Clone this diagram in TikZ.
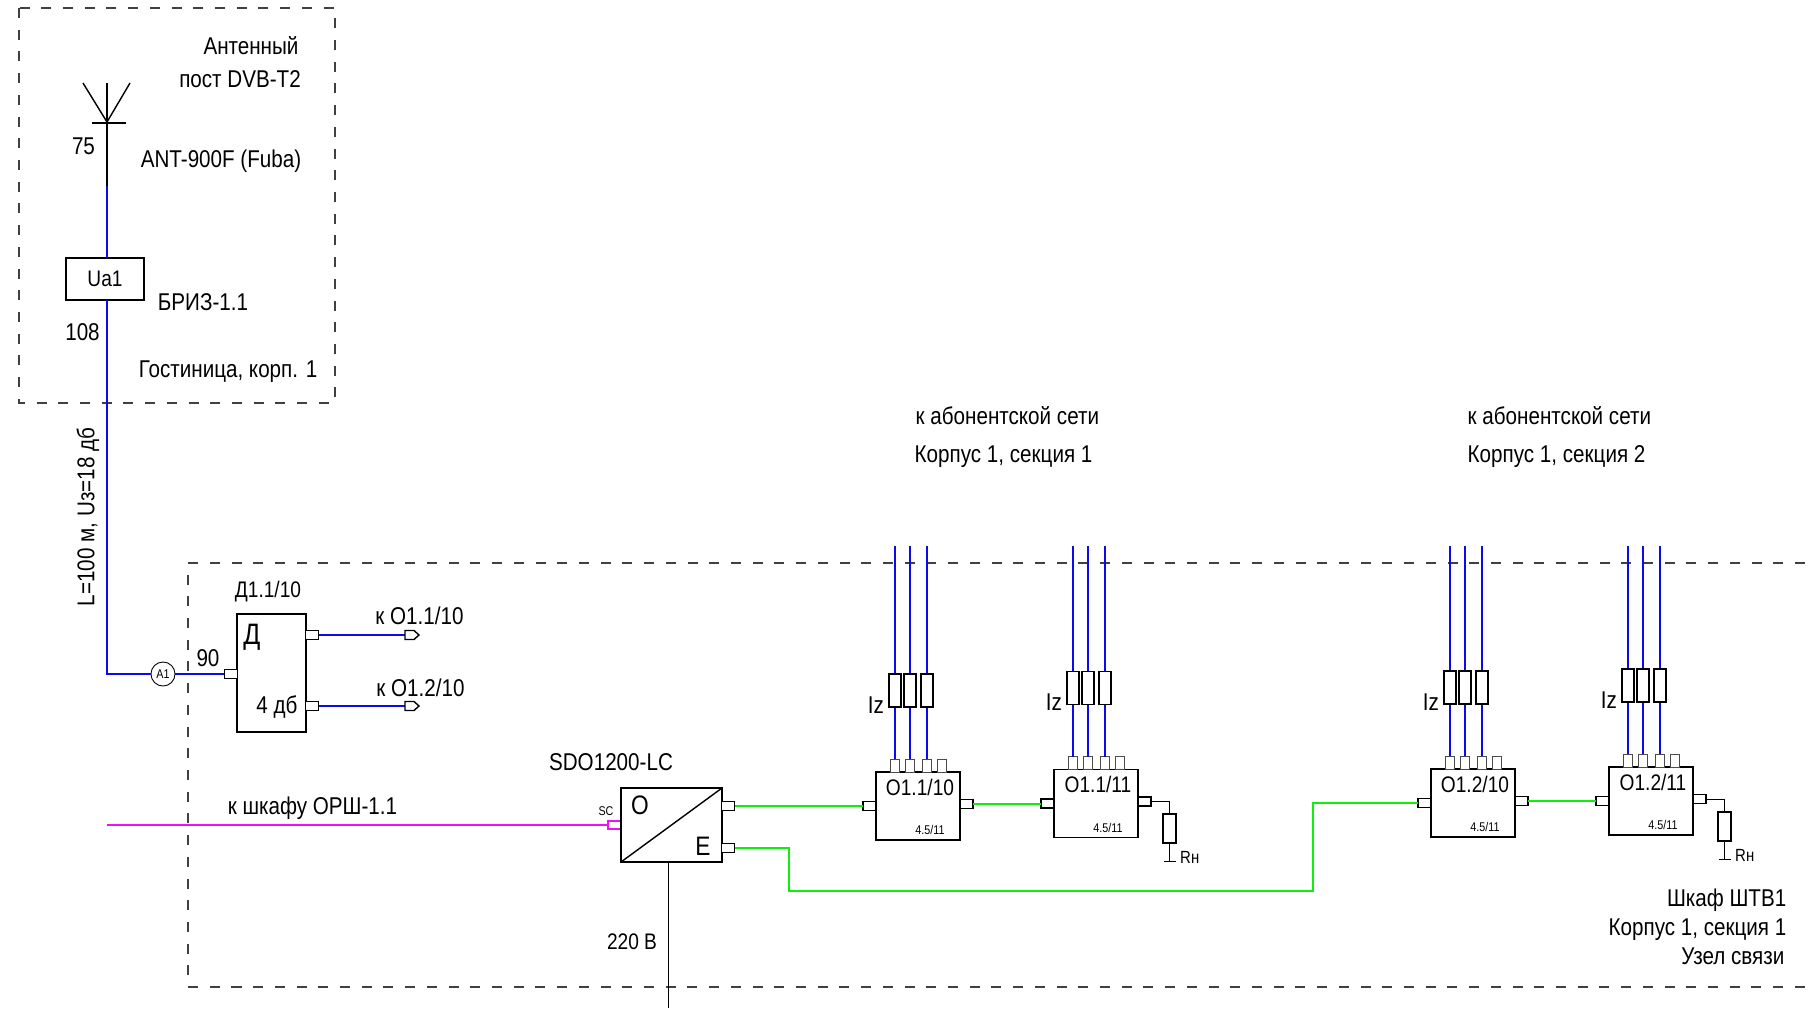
\documentclass[tikz,border=0pt]{standalone}
\usepackage{fontspec}
\setmainfont[FakeStretch=0.85]{Liberation Sans}
\usetikzlibrary{positioning}
\definecolor{coaxColor}{HTML}{0A0AF0}
\definecolor{opticColor}{HTML}{0CF00C}
\definecolor{trunkColor}{HTML}{F010F0}
\definecolor{zoneColor}{HTML}{404040}
\tikzset{
  lab/.style={inner sep=0pt, font=\fontsize{6.9}{8}\selectfont},
  unit lab/.style={inner sep=0pt, font=\fontsize{6.4}{8}\selectfont},
  tiny lab/.style={inner sep=0pt, font=\fontsize{3.6}{4}\selectfont},
  zone/.style={draw=zoneColor, line width=0.36pt, dash pattern=on 0.10cm off 0.117cm},
  coax/.style={draw=coaxColor, line width=0.55pt},
  optic/.style={draw=opticColor, line width=0.55pt},
  trunk/.style={draw=trunkColor, line width=0.55pt},
  wire/.style={draw=black, line width=0.28pt},
  box/.style={draw, fill=white, line width=0.4pt, inner sep=0pt, outer sep=0pt},
  unitbox/.style={box, minimum width=0.84cm, minimum height=0.68cm},
  portbox/.style={box, line width=0.32pt, minimum width=0.13cm, minimum height=0.09cm},
  topport/.style={box, draw=black!70, line width=0.25pt, minimum width=0.09cm, minimum height=0.13cm},
  resbox/.style={box, minimum width=0.12cm, minimum height=0.33cm},
  loadbox/.style={box, minimum width=0.13cm, minimum height=0.29cm},
}
\newcommand{\opticunit}[4]{
  \begin{scope}[shift={(#2,#3)}]
    \node[unitbox] (#1) at (42,34) {};
    \node[unit lab] (#1name) at (44,15) {#4};
    \node[tiny lab] (#1type) at (54,58) {4.5/11};
    \node[portbox] (#1in) at (-6.5,34) {};
    \node[portbox] (#1out) at (90.5,32) {};
    \node[topport] (#1port4) at (66,-6.5) {};
    \foreach \i/\x in {1/19,2/34,3/51} {
      \node[topport] (#1port\i) at (\x,-6.5) {};
      \coordinate (#1cable\i) at (\x,{546-#3});
      \draw[coax] (#1port\i.north) -- (#1cable\i);
      \node[resbox] (#1res\i) at (\x,-81.5) {};
    }
    \node[lab] (#1iz) at (0,-67) {Iz};
  \end{scope}
}
\newcommand{\loadunit}[3]{
  \node[loadbox] (#1load) at (#2,#3) {};
  \coordinate (#1gnd) at (#2,{#3+32.5});
  \draw[wire] (#1out.east) -| (#1load.north);
  \draw[wire] (#1load.south) -- (#1gnd) ++(-6,0) -- ++(12,0);
  \node[lab, anchor=west, font=\fontsize{5}{6}\selectfont] (#1rn) at ({#2+10},{#3+28.5}) {Rн};
}

\begin{document}
\begin{tikzpicture}[x=0.01cm, y=-0.01cm]
      \useasboundingbox (0,0) rectangle (1811,1011);

      \draw[zone] (19,8) rectangle (335,403);
      \draw[zone] (1805,563) -- (188,563) -- (188,987) -- (1805,987);

      \node[lab] (post1) at (251,45.5) {Антенный};
      \node[lab] (post2) at (240,79) {пост DVB-Т2};
      \node[lab] (fuba) at (221,161) {ANT-900F (Fuba)};
      \node[lab] (z75) at (83.5,146) {75};
      \node[lab] (briz) at (203,302) {БРИЗ-1.1};
      \node[lab] (z108) at (82.5,332) {108};
      \node[lab] (hotel) at (228,372) {Гостиница, корп. 1};
      \node[lab, rotate=90] (span) at (88,517) {L=100 м, Uз=18 дб};

      \coordinate (mast) at (107,83);
      \coordinate (hub) at (107,122);
      \coordinate (feed) at (107,186);
      \coordinate (armL) at (83,83);
      \coordinate (armR) at (130,83);
      \coordinate (barL) at (92,123);
      \coordinate (barR) at (126,123);
      \draw[line width=0.4pt] (mast) -- (feed);
      \draw[line width=0.4pt] (armL) -- (hub) -- (armR);
      \draw[line width=0.4pt] (barL) -- (barR);

      \node[box, minimum width=0.78cm, minimum height=0.42cm, font=\fontsize{6.4}{7}\selectfont] (ua) at (105,279) {Ua1};
      \node[box, circle, line width=0.25pt, minimum size=0.24cm, font=\fontsize{3.6}{4}\selectfont] (a1) at (163,674) {A1};
      \node[box, minimum width=0.69cm, minimum height=1.18cm] (div) at (271.5,673) {};
      \node[portbox] (divin) at (231,674) {};
      \node[portbox] (divout1) at (312,635) {};
      \node[portbox] (divout2) at (312,706) {};
      \node[unit lab] (divname) at (268,592) {Д1.1/10};
      \node[lab, font=\fontsize{8.4}{9}\selectfont] (divd) at (252,637) {Д};
      \node[lab] (divdb) at (277,707) {4 дб};
      \node[lab] (z90) at (208,658) {90};

      \draw[coax] (feed) -- (feed |- ua.north);
      \draw[coax] (feed |- ua.south) |- (a1.west);
      \draw[coax] (a1.east) -- (divin.west);

      \coordinate (tip1) at (405,635);
      \coordinate (tip2) at (405,706);
      \draw[coax] (divout1.east) -- (tip1);
      \draw[coax] (divout2.east) -- (tip2);
      \foreach \t in {tip1,tip2} {
        \draw[line width=0.4pt, fill=white] (\t) ++(0,-4.5) -- ++(9,0) -- ++(5,4.5) -- ++(-5,4.5) -- ++(-9,0) -- cycle;
      }
      \node[lab] (tolabel1) at (419.5,616) {к О1.1/10};
      \node[lab] (tolabel2) at (420.5,688) {к О1.2/10};

      \coordinate (orsh) at (107,825);
      \node[box, draw=trunkColor, minimum width=0.14cm, minimum height=0.08cm] (sc) at (615,825) {};
      \draw[trunk] (orsh) -- (sc.west);
      \node[lab] (orshlabel) at (312.5,808) {к шкафу ОРШ-1.1};
      \node[lab] (sdo) at (611,762) {SDO1200-LC};
      \node[tiny lab] (sclabel) at (606,811) {SC};

      \node[box, minimum width=1.01cm, minimum height=0.74cm] (conv) at (671.5,825) {};
      \draw[line width=0.4pt] (conv.south west) -- (conv.north east);
      \node[lab, font=\fontsize{7.6}{8}\selectfont] (convo) at (640,805) {О};
      \node[lab, font=\fontsize{7.6}{8}\selectfont] (conve) at (703,846) {Е};
      \node[portbox] (convout1) at (728,806) {};
      \node[portbox] (convout2) at (728,848) {};
      \coordinate (mains) at (668,1008);
      \draw[wire] (conv.south -| mains) -- (mains);
      \node[unit lab] (volts) at (632,942) {220 В};

      \opticunit{aa}{876}{772}{О1.1/10}
      \opticunit{ab}{1054}{769.5}{О1.1/11}
      \opticunit{ba}{1431}{769}{О1.2/10}
      \opticunit{bb}{1609}{767}{О1.2/11}
      \loadunit{ab}{1169.5}{828.5}
      \loadunit{bb}{1724.5}{826.5}

      \draw[optic] (convout1.east) -- (convout1.east -| aain.west);
      \draw[optic] (aaout.east) -- (aaout.east -| abin.west);
      \draw[optic] (baout.east) -- (baout.east -| bbin.west);
      \draw[optic] (convout2.east) -| (789,891) -- (1313,891) |- (bain.west);

      \node[lab, anchor=west] (sub1) at (915,416) {к абонентской сети};
      \node[lab, anchor=west] (sec1) at (914,456.5) {Корпус 1, секция 1};
      \node[lab, anchor=west] (sub2) at (1467,416) {к абонентской сети};
      \node[lab, anchor=west] (sec2) at (1467,456.5) {Корпус 1, секция 2};

      \node[lab, anchor=east] (cab1) at (1787,900) {Шкаф ШТВ1};
      \node[lab, anchor=east] (cab2) at (1787,930) {Корпус 1, секция 1};
      \node[lab, anchor=east] (cab3) at (1785,956) {Узел связи};
    \end{tikzpicture}
\end{document}
